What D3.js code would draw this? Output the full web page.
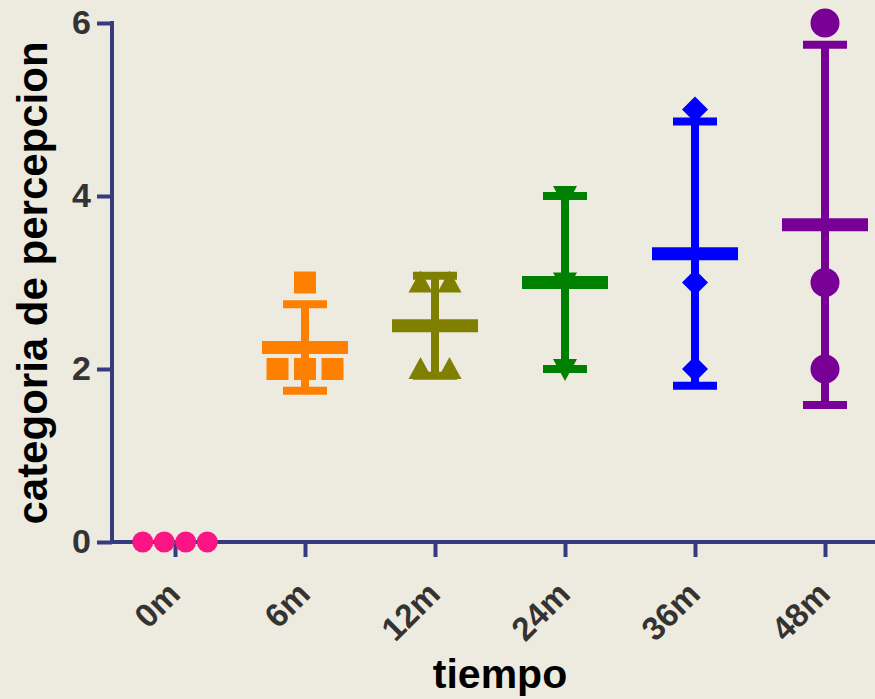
<!DOCTYPE html>
<html>
<head>
<meta charset="utf-8">
<script src="https://cdn.jsdelivr.net/npm/d3@7"></script>
<style>
  body { margin: 0; background: #edeae0; }
  svg { display: block; font-family: "Liberation Sans", Arial, sans-serif; }
</style>
</head>
<body>
<svg id="chart" width="875" height="699"></svg>
<script>
// datos
var categories = ['0m', '6m', '12m', '24m', '36m', '48m']
var values0 = [0, 0, 0, 0]
var values6 = [3, 2, 2, 2]
var values12 = [3, 3, 2, 2]
var values24 = [4, 3, 2]
var values36 = [5, 3, 2]
var values48 = [6, 3, 2]
var yTicks = [0, 2, 4, 6]

var groups = [values0, values6, values12, values24, values36, values48]
var colors = ['#fb1483', '#ff8000', '#808000', '#008000', '#0000ff', '#780096']
var shapes = ['circleSmall', 'square', 'triangle', 'triangleDown', 'diamond', 'circle']
var spread = [21.5, 27.5, 29, 0, 0, 0]

var svg = d3.select('#chart')
var axisColor = '#363b80'

var y = d3.scaleLinear().domain([0, 6]).range([542, 23])
var x = d3.scalePoint().domain(categories).range([175, 825])

// ejes
svg.append('line')
    .attr('x1', 112).attr('x2', 875)
    .attr('y1', y(0)).attr('y2', y(0))
    .attr('stroke', axisColor).attr('stroke-width', 4)
svg.append('line')
    .attr('x1', 112).attr('x2', 112)
    .attr('y1', y(6) - 2).attr('y2', y(0) + 2)
    .attr('stroke', axisColor).attr('stroke-width', 4)

var yAxis = svg.append('g')
    .attr('transform', 'translate(112,0)')
    .call(d3.axisLeft(y).tickValues(yTicks).tickFormat(d3.format('d')).tickSize(15).tickPadding(6))
yAxis.select('.domain').remove()
yAxis.selectAll('.tick line').attr('stroke', axisColor).attr('stroke-width', 4)
yAxis.selectAll('.tick text')
    .attr('fill', '#333')
    .attr('font-size', 34)
    .attr('font-weight', 'bold')
    .attr('font-family', '"Liberation Sans", Arial, sans-serif')

var xAxis = svg.append('g')
    .attr('transform', 'translate(0,' + y(0) + ')')
    .call(d3.axisBottom(x).tickSize(15).tickFormat(''))
xAxis.select('.domain').remove()
xAxis.selectAll('.tick line').attr('stroke', axisColor).attr('stroke-width', 4)

svg.append('g').selectAll('text')
    .data(categories)
    .enter().append('text')
    .attr('transform', function(d) {
        return 'translate(' + (x(d) + 7) + ',' + 596 + ') rotate(-45)'
    })
    .attr('text-anchor', 'end')
    .attr('fill', '#333')
    .attr('font-size', 33)
    .attr('font-weight', 'bold')
    .text(function(d) { return d })

// titulos
svg.append('text')
    .attr('transform', 'translate(47,283) rotate(-90)')
    .attr('text-anchor', 'middle')
    .attr('font-size', 42)
    .attr('font-weight', 'bold')
    .attr('fill', '#000')
    .text('categoria de percepcion')

svg.append('text')
    .attr('x', 500).attr('y', 688)
    .attr('text-anchor', 'middle')
    .attr('font-size', 41)
    .attr('font-weight', 'bold')
    .attr('fill', '#000')
    .text('tiempo')

function markerPath(shape) {
    if (shape == 'square') return 'M-11,-11H11V11H-11Z'
    if (shape == 'triangle') return 'M0,-12L12,10H-12Z'
    if (shape == 'triangleDown') return 'M0,12L12,-10H-12Z'
    if (shape == 'diamond') return 'M0,-13L13,0L0,13L-13,0Z'
    return null
}

// medias y desviacion estandar
groups.forEach(function(vals, gi) {
    var cat = categories[gi]
    var cx = x(cat)
    var col = colors[gi]
    var m = d3.mean(vals)
    var sd = d3.deviation(vals) || 0
    var g = svg.append('g')

    if (sd > 0) {
        g.append('line')
            .attr('x1', cx).attr('x2', cx)
            .attr('y1', y(m + sd)).attr('y2', y(m - sd))
            .attr('stroke', col).attr('stroke-width', 8)
        ;[m + sd, m - sd].forEach(function(v) {
            g.append('line')
                .attr('x1', cx - 22).attr('x2', cx + 22)
                .attr('y1', y(v)).attr('y2', y(v))
                .attr('stroke', col).attr('stroke-width', 8)
        })
        g.append('line')
            .attr('x1', cx - 43).attr('x2', cx + 43)
            .attr('y1', y(m)).attr('y2', y(m))
            .attr('stroke', col).attr('stroke-width', 13)
    }

    // puntos, los repetidos se reparten a lo ancho
    var counts = d3.rollup(vals, function(v) { return v.length }, function(d) { return d })
    var seen = {}
    vals.forEach(function(v) {
        var n = counts.get(v)
        var k = seen[v] || 0
        seen[v] = k + 1
        var px = cx + (k - (n - 1) / 2) * spread[gi]
        var py = y(v)
        var shape = shapes[gi]
        if (shape == 'circle' || shape == 'circleSmall') {
            g.append('circle')
                .attr('cx', px).attr('cy', py)
                .attr('r', shape == 'circle' ? 14.5 : 10.5)
                .attr('fill', col)
        } else {
            g.append('path')
                .attr('d', markerPath(shape))
                .attr('transform', 'translate(' + px + ',' + py + ')')
                .attr('fill', col)
        }
    })
})
</script>
</body>
</html>
